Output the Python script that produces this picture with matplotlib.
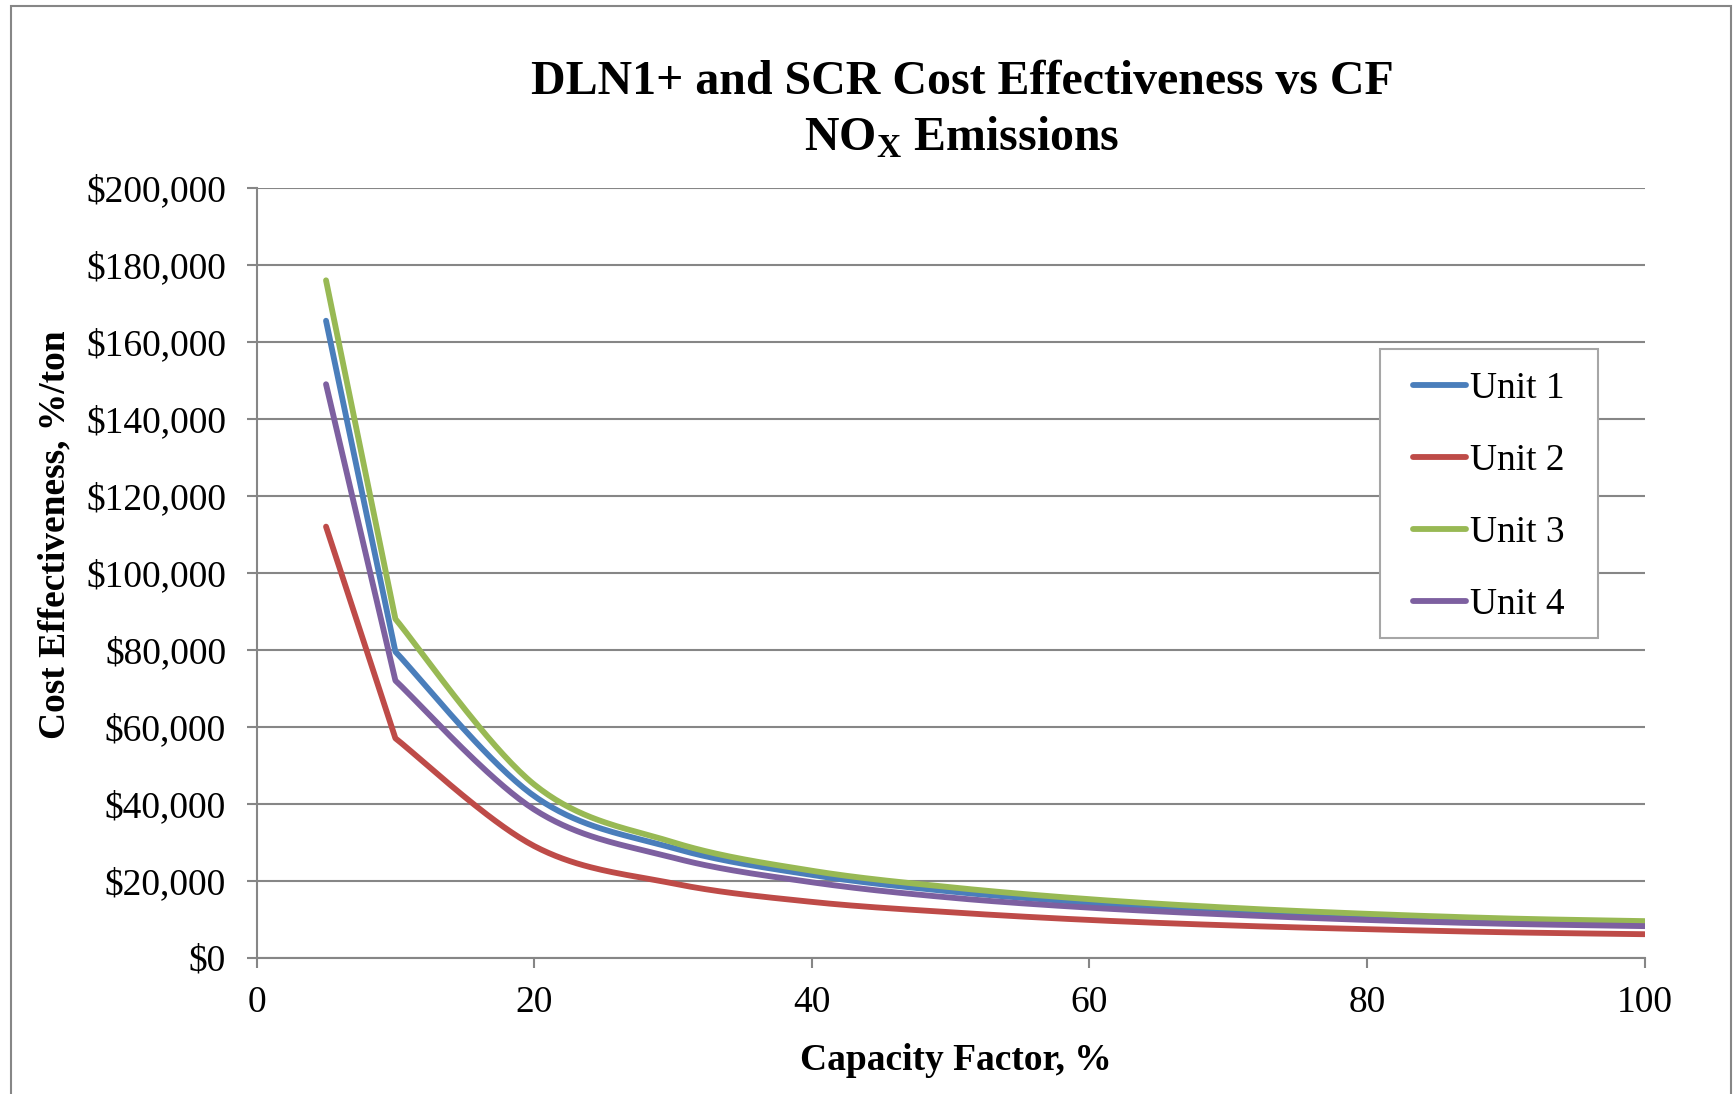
import numpy as np
import matplotlib
matplotlib.use("Agg")
import matplotlib.pyplot as plt
from matplotlib.ticker import FuncFormatter, MultipleLocator
from matplotlib.patches import Rectangle

plt.rcParams['font.family'] = 'Liberation Serif'
plt.rcParams['mathtext.fontset'] = 'custom'
plt.rcParams['mathtext.bf'] = 'Liberation Serif:bold'
plt.rcParams['mathtext.rm'] = 'Liberation Serif'

# capacity factor, % and cost effectiveness, $/ton
cf = [5, 10, 20, 30, 40, 50, 60, 70, 80, 90, 100]
unit1 = [165500, 79500, 42000, 28500, 21500, 17200, 14300, 12300, 10800, 9600, 8700]
unit2 = [112000, 57000, 29000, 19300, 14500, 11800, 9800, 8400, 7400, 6600, 6100]
unit3 = [176000, 88000, 45000, 30000, 22600, 18300, 15200, 13000, 11400, 10200, 9500]
unit4 = [149000, 72000, 38500, 26000, 19600, 15600, 13000, 11200, 9800, 8800, 8200]

names = ["Unit 1", "Unit 2", "Unit 3", "Unit 4"]
colors = ["#4A7EBB", "#BE4B48", "#98B954", "#7D60A0"]
grid_col = "#868686"


def smooth(x, y, sx, sy, n=40):
    # smoothed line: Bezier segments with Catmull-Rom control points
    P = np.column_stack([np.asarray(x, float) * sx, np.asarray(y, float) * sy])
    P = np.vstack([P[0], P, P[-1]])
    t = np.linspace(0, 1, n)[:, None]
    segs = []
    for i in range(1, len(P) - 2):
        p0, p1, p2, p3 = P[i - 1], P[i], P[i + 1], P[i + 2]
        c1 = p1 + (p2 - p0) / 6
        c2 = p2 - (p3 - p1) / 6
        segs.append((1 - t)**3 * p1 + 3 * (1 - t)**2 * t * c1
                    + 3 * (1 - t) * t**2 * c2 + t**3 * p2)
    S = np.vstack(segs)
    return S[:, 0] / sx, S[:, 1] / sy


fig = plt.figure(figsize=(17.34, 10.94), dpi=100)
ax = fig.add_axes([0.148, 0.1246, 0.8004, 0.7036])

# pixel scales of the axes, used for the smoothing
sx = 1387.9 / 100
sy = 769.7 / 200000

for vals, name, c in zip([unit1, unit2, unit3, unit4], names, colors):
    xs, ys = smooth(cf[1:], vals[1:], sx, sy)
    xs = np.concatenate([[cf[0]], xs])
    ys = np.concatenate([[vals[0]], ys])
    ax.plot(xs, ys, color=c, lw=4.2, label=name, solid_capstyle='round',
            solid_joinstyle='round', zorder=3)

ax.set_xlim(0, 100)
ax.set_ylim(0, 200000)
ax.xaxis.set_major_locator(MultipleLocator(20))
ax.yaxis.set_major_locator(MultipleLocator(20000))
ax.yaxis.set_major_formatter(FuncFormatter(lambda v, p: "\\${:,.0f}".format(v)))

ax.grid(axis='y', color=grid_col, lw=1.5)
ax.set_axisbelow(True)
for s in ['top', 'right']:
    ax.spines[s].set_visible(False)
for s in ['left', 'bottom']:
    ax.spines[s].set_color(grid_col)
    ax.spines[s].set_linewidth(1.5)
ax.tick_params(axis='both', colors=grid_col, labelcolor='black', width=1.5,
               length=7, labelsize=27, direction='out')
ax.tick_params(axis='x', pad=13)
ax.tick_params(axis='y', pad=15)

ax.set_xlabel("Capacity Factor, %", fontsize=27, fontweight='bold')
ax.set_ylabel("Cost Effectiveness, %/ton", fontsize=27, fontweight='bold')
ax.xaxis.set_label_coords(0.5036, -0.1334)
ax.yaxis.set_label_coords(-0.1453, 0.549)
ax.xaxis.label.set_va('center')
ax.yaxis.label.set_va('center')

# legend content without frame, frame drawn as its own box
leg = ax.legend(loc='upper left', bbox_to_anchor=(0.8334, 0.761), borderaxespad=0,
                fontsize=27, frameon=False, handlelength=1.4, handletextpad=0.1,
                labelspacing=1.0, borderpad=0)
ax.add_patch(Rectangle((0.8094, 0.4154), 0.9665 - 0.8094, 0.7908 - 0.4154,
                       transform=ax.transAxes, fill=True, facecolor='white',
                       edgecolor='#A6A6A6', lw=1.5, zorder=4))
leg.set_zorder(5)

fig.text(0.5548, 0.914, "DLN1+ and SCR Cost Effectiveness vs CF", fontsize=34.5,
         fontweight='bold', ha='center', va='baseline')
fig.text(0.5548, 0.8625, r"NO$_{\mathbf{X}}$ Emissions", fontsize=34.5,
         fontweight='bold', ha='center', va='baseline')

fig.patches.append(Rectangle((11 / 1734, -0.05), (1731 - 11) / 1734, (1094 - 5.5) / 1094 + 0.05,
                             transform=fig.transFigure, fill=False,
                             edgecolor=grid_col, lw=1.5))

fig.savefig("out.png", dpi=100)
